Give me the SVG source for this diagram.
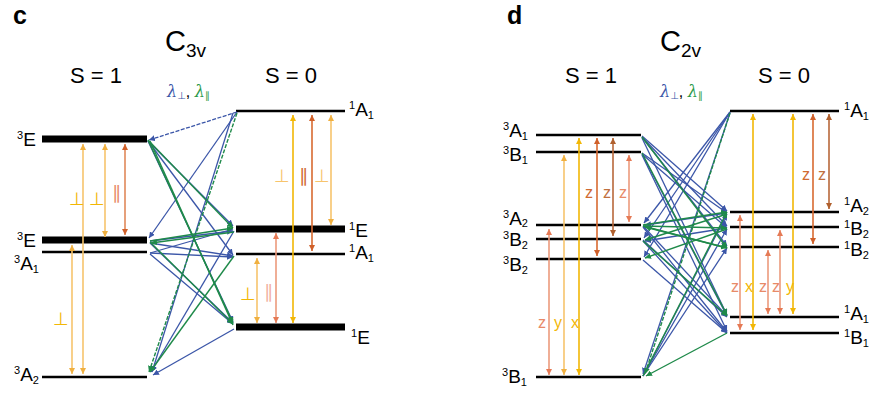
<svg xmlns="http://www.w3.org/2000/svg" width="896" height="400" viewBox="0 0 896 400">
<style>
  text{font-family:"Liberation Sans",Arial,sans-serif}
  .panel{font-size:25px;font-weight:bold}
  .grp{font-size:29px}
  .spin{font-size:22px}
  .lvl{font-size:19px}
  .sup{font-size:11px}
  .sub{font-size:11px}
  .thin{stroke:#000;stroke-width:2.5}
  .thick{stroke:#000;stroke-width:7}
  .b{stroke:#3b56a8;stroke-width:1.3;fill:none;marker-end:url(#hb)}
  .g{stroke:#1f8a4a;stroke-width:1.4;fill:none;marker-end:url(#hg)}
  .dash{stroke-dasharray:4 1.5}
  .tr{stroke-width:1.6;fill:none}
  .yel{stroke:#f2b705;marker-start:url(#ay);marker-end:url(#ay)}
  .lyel{stroke:#f7c46c;marker-start:url(#aly);marker-end:url(#aly)}
  .sal{stroke:#ec9a7c;marker-start:url(#as);marker-end:url(#as)}
  .org{stroke:#d86a30;marker-start:url(#ao);marker-end:url(#ao)}
  .brn{stroke:#b8683a;marker-start:url(#abr);marker-end:url(#abr)}
  .sym{font-family:"DejaVu Sans",sans-serif;font-size:18px}
  .pol{font-size:16px}
  .cy{fill:#f2b705}
  .cly{fill:#f7c46c}
  .cs{fill:#e88a68}
  .cls{fill:#f2b0a0}
  .co{fill:#d06a30}
  .cb{fill:#c0703e}
  .lb{fill:#3b56a8}
  .lg{fill:#2a9a4a}
</style>
<defs>
  <marker id="hb" markerUnits="userSpaceOnUse" markerWidth="7" markerHeight="6" refX="6" refY="3" orient="auto"><path d="M0,0 L6,3 L0,6 z" fill="#3b56a8"/></marker>
  <marker id="hg" markerUnits="userSpaceOnUse" markerWidth="7" markerHeight="6" refX="6" refY="3" orient="auto"><path d="M0,0 L6,3 L0,6 z" fill="#1f8a4a"/></marker>
  <marker id="ay" markerUnits="userSpaceOnUse" markerWidth="7" markerHeight="6" refX="6" refY="3" orient="auto-start-reverse"><path d="M0,0 L6,3 L0,6 z" fill="#f2b705"/></marker>
  <marker id="aly" markerUnits="userSpaceOnUse" markerWidth="7" markerHeight="6" refX="6" refY="3" orient="auto-start-reverse"><path d="M0,0 L6,3 L0,6 z" fill="#f0b040"/></marker>
  <marker id="as" markerUnits="userSpaceOnUse" markerWidth="7" markerHeight="6" refX="6" refY="3" orient="auto-start-reverse"><path d="M0,0 L6,3 L0,6 z" fill="#e57a55"/></marker>
  <marker id="ao" markerUnits="userSpaceOnUse" markerWidth="7" markerHeight="6" refX="6" refY="3" orient="auto-start-reverse"><path d="M0,0 L6,3 L0,6 z" fill="#d0602a"/></marker>
  <marker id="abr" markerUnits="userSpaceOnUse" markerWidth="7" markerHeight="6" refX="6" refY="3" orient="auto-start-reverse"><path d="M0,0 L6,3 L0,6 z" fill="#b0602e"/></marker>
</defs>
<rect width="896" height="400" fill="#fff"/>

<!-- ===== Panel c ===== -->
<g id="title-c">
  <text class="panel" x="13" y="24">c</text>
  <text class="grp" x="165" y="51">C<tspan font-size="19" dy="6">3v</tspan></text>
  <text class="spin" x="70" y="83">S = 1</text>
  <text class="spin" x="265" y="83">S = 0</text>
  <text x="167" y="97" font-size="16"><tspan class="lb" font-family="DejaVu Serif, serif" font-style="italic">λ</tspan><tspan class="lb" font-size="10" font-family="DejaVu Sans, sans-serif" dy="2">⊥</tspan><tspan dy="-2">, </tspan><tspan class="lg" font-family="DejaVu Serif, serif" font-style="italic">λ</tspan><tspan class="lg" font-size="10" font-family="DejaVu Sans, sans-serif" dy="2">∥</tspan></text>
</g>

<g id="c-3E-top"><line class="thick" x1="42" y1="139" x2="147" y2="139"/><text class="lvl" x="17" y="146"><tspan class="sup" dy="-7">3</tspan><tspan dy="7">E</tspan></text></g>
<g id="c-3E-low"><line class="thick" x1="42" y1="240" x2="147" y2="240"/><text class="lvl" x="17" y="247"><tspan class="sup" dy="-7">3</tspan><tspan dy="7">E</tspan></text></g>
<g id="c-3A1"><line class="thin" x1="42" y1="252" x2="147" y2="252"/><text class="lvl" x="14" y="270"><tspan class="sup" dy="-7">3</tspan><tspan dy="7">A</tspan><tspan class="sub" dy="3">1</tspan></text></g>
<g id="c-3A2"><line class="thin" x1="42" y1="377" x2="147" y2="377"/><text class="lvl" x="14" y="381"><tspan class="sup" dy="-7">3</tspan><tspan dy="7">A</tspan><tspan class="sub" dy="3">2</tspan></text></g>
<g id="c-1A1-top"><line class="thin" x1="236" y1="111" x2="345" y2="111"/><text class="lvl" x="349" y="116"><tspan class="sup" dy="-7">1</tspan><tspan dy="7">A</tspan><tspan class="sub" dy="3">1</tspan></text></g>
<g id="c-1E-mid"><line class="thick" x1="236" y1="229" x2="345" y2="229"/><text class="lvl" x="349" y="237"><tspan class="sup" dy="-7">1</tspan><tspan dy="7">E</tspan></text></g>
<g id="c-1A1-low"><line class="thin" x1="236" y1="254" x2="345" y2="254"/><text class="lvl" x="349" y="259"><tspan class="sup" dy="-7">1</tspan><tspan dy="7">A</tspan><tspan class="sub" dy="3">1</tspan></text></g>
<g id="c-1E-bot"><line class="thick" x1="236" y1="327" x2="345" y2="327"/><text class="lvl" x="351" y="344"><tspan class="sup" dy="-7">1</tspan><tspan dy="7">E</tspan></text></g>

<g id="c-transitions">
  <line class="tr lyel" x1="83" y1="144" x2="83" y2="374"/>
  <line class="tr lyel" x1="105" y1="144" x2="105" y2="237"/>
  <line class="tr org" x1="125" y1="144" x2="125" y2="235" stroke-opacity="0.8"/>
  <line class="tr lyel" x1="72" y1="245" x2="72" y2="374"/>
  <text class="sym cy" x="69" y="205">⊥</text>
  <text class="sym cy" x="89" y="205">⊥</text>
  <text class="sym cs" x="112" y="199">∥</text>
  <text class="sym cy" x="53" y="325">⊥</text>
  <line class="tr yel" x1="293" y1="115" x2="293" y2="323"/>
  <line class="tr org" x1="312" y1="115" x2="312" y2="251"/>
  <line class="tr lyel" x1="331" y1="115" x2="331" y2="225"/>
  <line class="tr lyel" x1="257" y1="258" x2="257" y2="323"/>
  <line class="tr sal" x1="276" y1="233" x2="276" y2="323"/>
  <text class="sym cly" x="274" y="182">⊥</text>
  <text class="sym co" x="299" y="182">∥</text>
  <text class="sym cly" x="314" y="182">⊥</text>
  <text class="sym cy" x="240" y="300">⊥</text>
  <text class="sym cls" x="264" y="298">∥</text>
</g>

<g id="c-connectors">
  <line class="b dash" x1="237" y1="112" x2="149" y2="140"/>
  <line class="b" x1="237" y1="112" x2="149" y2="238"/>
  <line class="b" x1="148" y1="141" x2="233" y2="226"/>
  <line class="b" x1="148" y1="141" x2="233" y2="255"/>
  <line class="b" x1="148" y1="141" x2="233" y2="322"/>
  <line class="b" x1="150" y1="241" x2="233" y2="231"/>
  <line class="b" x1="150" y1="243" x2="233" y2="256"/>
  <line class="b" x1="150" y1="253" x2="233" y2="229"/>
  <line class="b" x1="150" y1="253" x2="233" y2="257"/>
  <line class="b" x1="150" y1="243" x2="233" y2="323"/>
  <line class="b" x1="150" y1="254" x2="233" y2="324"/>
  <line class="b" x1="234" y1="231" x2="151" y2="372"/>
  <line class="b" x1="234" y1="329" x2="153" y2="375"/>
  <line class="b" x1="233" y1="113" x2="152" y2="372"/>
  <line class="g" x1="148" y1="140" x2="233" y2="228" stroke-width="2"/>
  <line class="g" x1="148" y1="140" x2="233" y2="323"/>
  <line class="g" x1="150" y1="141" x2="233" y2="325" stroke-width="1.8"/>
  <line class="g dash" x1="237" y1="113" x2="149" y2="372"/>
  <line class="g" x1="150" y1="241" x2="233" y2="228"/>
  <line class="g" x1="234" y1="232" x2="151" y2="243"/>
  <line class="g" x1="150" y1="242" x2="233" y2="324"/>
  <line class="g" x1="234" y1="256" x2="150" y2="372"/>
</g>

<!-- ===== Panel d ===== -->
<g id="title-d">
  <text class="panel" x="507" y="24">d</text>
  <text class="grp" x="660" y="51">C<tspan font-size="19" dy="6">2v</tspan></text>
  <text class="spin" x="565" y="83">S = 1</text>
  <text class="spin" x="758" y="83">S = 0</text>
  <text x="660" y="97" font-size="16"><tspan class="lb" font-family="DejaVu Serif, serif" font-style="italic">λ</tspan><tspan class="lb" font-size="10" font-family="DejaVu Sans, sans-serif" dy="2">⊥</tspan><tspan dy="-2">, </tspan><tspan class="lg" font-family="DejaVu Serif, serif" font-style="italic">λ</tspan><tspan class="lg" font-size="10" font-family="DejaVu Sans, sans-serif" dy="2">∥</tspan></text>
</g>

<g id="d-3A1"><line class="thin" x1="536" y1="135" x2="641" y2="135"/><text class="lvl" x="503" y="137"><tspan class="sup" dy="-7">3</tspan><tspan dy="7">A</tspan><tspan class="sub" dy="3">1</tspan></text></g>
<g id="d-3B1"><line class="thin" x1="536" y1="152" x2="641" y2="152"/><text class="lvl" x="503" y="161"><tspan class="sup" dy="-7">3</tspan><tspan dy="7">B</tspan><tspan class="sub" dy="3">1</tspan></text></g>
<g id="d-3A2"><line class="thin" x1="536" y1="225" x2="641" y2="225"/><text class="lvl" x="503" y="225"><tspan class="sup" dy="-7">3</tspan><tspan dy="7">A</tspan><tspan class="sub" dy="2">2</tspan></text></g>
<g id="d-3B2"><line class="thin" x1="536" y1="239" x2="641" y2="239"/><text class="lvl" x="503" y="246"><tspan class="sup" dy="-7">3</tspan><tspan dy="7">B</tspan><tspan class="sub" dy="3">2</tspan></text></g>
<g id="d-3B2-low"><line class="thin" x1="536" y1="259" x2="641" y2="259"/><text class="lvl" x="503" y="271"><tspan class="sup" dy="-7">3</tspan><tspan dy="7">B</tspan><tspan class="sub" dy="3">2</tspan></text></g>
<g id="d-3B1-bot"><line class="thin" x1="536" y1="377" x2="641" y2="377"/><text class="lvl" x="502" y="383"><tspan class="sup" dy="-7">3</tspan><tspan dy="7">B</tspan><tspan class="sub" dy="3">1</tspan></text></g>
<g id="d-1A1"><line class="thin" x1="730" y1="111" x2="839" y2="111"/><text class="lvl" x="844" y="117"><tspan class="sup" dy="-7">1</tspan><tspan dy="7">A</tspan><tspan class="sub" dy="3">1</tspan></text></g>
<g id="d-1A2"><line class="thin" x1="730" y1="212" x2="839" y2="212"/><text class="lvl" x="844" y="212"><tspan class="sup" dy="-7">1</tspan><tspan dy="7">A</tspan><tspan class="sub" dy="3">2</tspan></text></g>
<g id="d-1B2"><line class="thin" x1="730" y1="227" x2="839" y2="227"/><text class="lvl" x="844" y="235"><tspan class="sup" dy="-7">1</tspan><tspan dy="7">B</tspan><tspan class="sub" dy="3">2</tspan></text></g>
<g id="d-1B2-low"><line class="thin" x1="730" y1="247" x2="839" y2="247"/><text class="lvl" x="844" y="256"><tspan class="sup" dy="-7">1</tspan><tspan dy="7">B</tspan><tspan class="sub" dy="3">2</tspan></text></g>
<g id="d-1A1-low"><line class="thin" x1="730" y1="317" x2="839" y2="317"/><text class="lvl" x="844" y="320"><tspan class="sup" dy="-7">1</tspan><tspan dy="7">A</tspan><tspan class="sub" dy="3">1</tspan></text></g>
<g id="d-1B1"><line class="thin" x1="730" y1="333" x2="839" y2="333"/><text class="lvl" x="844" y="344"><tspan class="sup" dy="-7">1</tspan><tspan dy="7">B</tspan><tspan class="sub" dy="3">1</tspan></text></g>

<g id="d-transitions">
  <line class="tr sal" x1="549" y1="229" x2="549" y2="375"/>
  <line class="tr lyel" x1="564" y1="155" x2="564" y2="375"/>
  <line class="tr yel" x1="579" y1="138" x2="579" y2="375"/>
  <line class="tr org" x1="597" y1="138" x2="597" y2="256"/>
  <line class="tr brn" x1="613" y1="138" x2="613" y2="236"/>
  <line class="tr sal" x1="629" y1="155" x2="629" y2="222"/>
  <text class="pol cs" x="538" y="328">z</text>
  <text class="pol cy" x="554" y="328">y</text>
  <text class="pol cy" x="571" y="328">x</text>
  <text class="pol co" x="585" y="198">z</text>
  <text class="pol cb" x="603" y="198">z</text>
  <text class="pol cs" x="619" y="198">z</text>
  <line class="tr sal" x1="740" y1="215" x2="740" y2="330"/>
  <line class="tr yel" x1="753" y1="114" x2="753" y2="330"/>
  <line class="tr sal" x1="768" y1="250" x2="768" y2="314"/>
  <line class="tr sal" x1="780" y1="230" x2="780" y2="314"/>
  <line class="tr yel" x1="793" y1="114" x2="793" y2="314"/>
  <line class="tr org" x1="813" y1="114" x2="813" y2="244"/>
  <line class="tr brn" x1="829" y1="114" x2="829" y2="209"/>
  <text class="pol cs" x="731" y="292">z</text>
  <text class="pol cy" x="745" y="292">x</text>
  <text class="pol cs" x="759" y="292">z</text>
  <text class="pol cs" x="772" y="292">z</text>
  <text class="pol cy" x="786" y="292">y</text>
  <text class="pol co" x="802" y="180">z</text>
  <text class="pol cb" x="818" y="180">z</text>
</g>

<g id="d-connectors">
  <line class="b" x1="642" y1="136" x2="727" y2="211"/>
  <line class="b" x1="642" y1="137" x2="727" y2="226"/>
  <line class="b" x1="642" y1="137" x2="727" y2="246"/>
  <line class="b" x1="642" y1="138" x2="727" y2="315"/>
  <line class="b" x1="642" y1="153" x2="727" y2="213"/>
  <line class="b" x1="642" y1="154" x2="727" y2="228"/>
  <line class="b" x1="642" y1="154" x2="727" y2="316"/>
  <line class="b" x1="642" y1="155" x2="727" y2="331"/>
  <line class="b" x1="730" y1="112" x2="644" y2="223"/>
  <line class="b" x1="730" y1="112" x2="644" y2="238"/>
  <line class="b" x1="730" y1="112" x2="644" y2="257"/>
  <line class="b" x1="730" y1="113" x2="643" y2="374"/>
  <line class="b" x1="643" y1="226" x2="727" y2="316"/>
  <line class="b" x1="643" y1="227" x2="727" y2="332"/>
  <line class="b" x1="643" y1="240" x2="727" y2="317"/>
  <line class="b" x1="643" y1="241" x2="727" y2="333"/>
  <line class="b" x1="643" y1="260" x2="727" y2="333"/>
  <line class="b" x1="727" y1="213" x2="645" y2="225"/>
  <line class="b" x1="727" y1="228" x2="645" y2="241"/>
  <line class="b" x1="643" y1="376" x2="727" y2="214"/>
  <line class="b" x1="643" y1="376" x2="727" y2="229"/>
  <line class="b" x1="643" y1="376" x2="727" y2="248"/>
  <line class="g" x1="642" y1="153" x2="727" y2="315"/>
  <line class="g" x1="642" y1="137" x2="727" y2="248"/>
  <line class="g dash" x1="730" y1="113" x2="645" y2="374"/>
  <line class="g" x1="643" y1="225" x2="727" y2="212"/>
  <line class="g" x1="643" y1="226" x2="727" y2="228"/>
  <line class="g" x1="643" y1="226" x2="727" y2="248"/>
  <line class="g" x1="727" y1="214" x2="645" y2="240"/>
  <line class="g" x1="727" y1="229" x2="645" y2="258"/>
  <line class="g" x1="727" y1="248" x2="645" y2="227"/>
  <line class="g" x1="643" y1="241" x2="727" y2="316"/>
  <line class="g" x1="727" y1="333" x2="646" y2="376"/>
  <line class="g" x1="643" y1="376" x2="727" y2="212"/>
</g>
</svg>
